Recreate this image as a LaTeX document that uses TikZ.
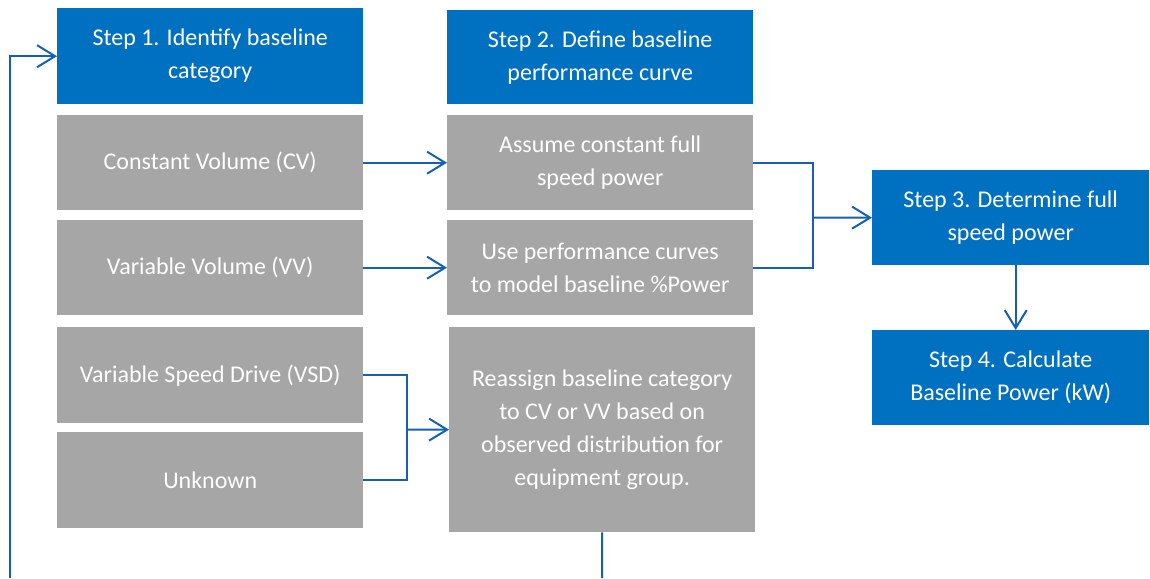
\documentclass[tikz,border=0pt]{standalone}
\usepackage{fontspec}
\setmainfont{Carlito}
\usetikzlibrary{arrows.meta}
\definecolor{stepblue}{HTML}{0070C0}
\definecolor{boxgray}{HTML}{A6A6A6}
\definecolor{linkblue}{HTML}{1560B0}
\tikzset{
  basebox/.style={rectangle, inner sep=0pt, anchor=north west, text=white,
    align=center, font=\fontsize{24}{33}\selectfont},
  stepbox/.style={basebox, fill=stepblue},
  graybox/.style={basebox, fill=boxgray},
  link/.style={draw=linkblue, line width=2pt},
  linkarrow/.style={link, -{Straight Barb[length=18pt, width=22pt, line width=2pt]}}
}
\begin{document}
\begin{tikzpicture}[x=1pt, y=-1pt]
\useasboundingbox (0,0) rectangle (1150,578);

% column 1: baseline categories
\node[stepbox, minimum width=306pt, minimum height=96pt] (s1) at (57,8) {Step 1. Identify baseline\\category};
\node[graybox, minimum width=306pt, minimum height=95pt] (cv) at (57,115) {Constant Volume (CV)};
\node[graybox, minimum width=306pt, minimum height=95pt] (vv) at (57,220) {Variable Volume (VV)};
\node[graybox, minimum width=306pt, minimum height=96pt] (vsd) at (57,327) {Variable Speed Drive (VSD)};
\node[graybox, minimum width=306pt, minimum height=96pt] (unk) at (57,432) {Unknown};

% column 2: performance curves
\node[stepbox, minimum width=306pt, minimum height=94pt] (s2) at (447,10) {Step 2. Define baseline\\performance curve};
\node[graybox, minimum width=306pt, minimum height=95pt] (assume) at (447,115) {Assume constant full\\speed power};
\node[graybox, minimum width=306pt, minimum height=95pt] (use) at (447,220) {Use performance curves\\to model baseline \%Power};
\node[graybox, minimum width=306pt, minimum height=205pt] (re) at (449,327) {Reassign baseline category\\to CV or VV based on\\observed distribution for\\equipment group.};

% column 3: power steps
\node[stepbox, minimum width=277pt, minimum height=95pt] (s3) at (872,170) {Step 3. Determine full\\speed power};
\node[stepbox, minimum width=277pt, minimum height=95pt] (s4) at (872,330) {Step 4. Calculate\\Baseline Power (kW)};

% junction points and loop-back ends
\coordinate (j1) at (813,217.5);
\coordinate (j2) at (407,429.5);
\coordinate (b1) at (602,578);
\coordinate (b2) at (10,578);

% connectors
\draw[linkarrow] (cv.east) -- (assume.west);
\draw[linkarrow] (vv.east) -- (use.west);
\draw[link] (assume.east) -| (j1) |- (use.east);
\draw[linkarrow] (j1) -- (s3.west);
\draw[link] (vsd.east) -| (j2) |- (unk.east);
\draw[linkarrow] (j2) -- (re.west);
\draw[linkarrow] ([xshift=5pt]s3.south) -- ([xshift=5pt]s4.north);
\draw[link] (re.south) -- (b1);
\draw[linkarrow] (b2) |- (s1.west);
\end{tikzpicture}
\end{document}
